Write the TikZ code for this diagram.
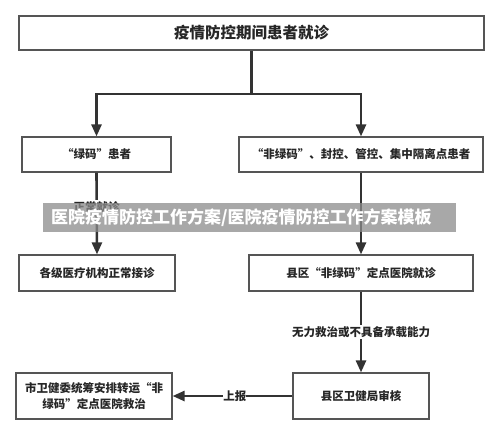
\documentclass[tikz,border=0pt]{standalone}
\usepackage{fontspec}
\newfontfamily\cjk{Noto Sans CJK SC}
\usetikzlibrary{arrows.meta}
\definecolor{boxline}{HTML}{555555}
\definecolor{arrowc}{HTML}{333333}
\begin{document}
\begin{tikzpicture}[x=1pt,y=-1pt,
  box/.style={draw=boxline,line width=1.2pt,fill=white,font=\cjk\bfseries\fontsize{11.5}{16}\selectfont,text=black!85,align=center,inner sep=0pt},
  conn/.style={draw=arrowc,line width=2.6pt},
  arr/.style={conn,-{Triangle[width=10pt,length=12pt]}},
  lbl/.style={fill=white,font=\cjk\bfseries\fontsize{11.5}{13}\selectfont,text=black!85,inner sep=1pt}]
\useasboundingbox (0,0) rectangle (500,436);
\fill[white] (0,0) rectangle (500,436);
\node[box,minimum width=465pt,minimum height=34pt,font=\cjk\bfseries\fontsize{15.5}{18}\selectfont] (top) at (251.5,33) {疫情防控期间患者就诊};
\node[box,minimum width=149pt,minimum height=35pt] (g) at (96.5,154.5) {“绿码”患者};
\node[box,minimum width=244pt,minimum height=35pt] (ng) at (361,154.5) {“非绿码”、封控、管控、集中隔离点患者};
\node[box,minimum width=156pt,minimum height=36pt] (gl) at (97,273) {各级医疗机构正常接诊};
\node[box,minimum width=224pt,minimum height=36pt] (dd) at (361,273) {县区“非绿码”定点医院就诊};
\node[box,minimum width=136pt,minimum height=46pt] (sh) at (361,396) {县区卫健局审核};
\node[box,minimum width=156pt,minimum height=46pt] (sw) at (94,396) {市卫健委统筹安排转运“非\\绿码”定点医院救治};
\coordinate (split) at (251.5,94);
\draw[conn] (top.south) -- (split);
\draw[arr] (split) -| (g.north);
\draw[arr] (split) -| (ng.north);
\draw[arr] (g.south) -- node[lbl,pos=0.42] (l1) {正常就诊} (gl.north);
\draw[arr] (ng.south) -- (dd.north);
\draw[arr] (dd.south) -- node[lbl,pos=0.5] (l2) {无力救治或不具备承载能力} (sh.north);
\draw[arr] (sh.west) -- node[lbl,pos=0.48,inner sep=0pt] (l3) {上报} (sw.east);
\fill[black!45,fill opacity=0.75] (43,203) rectangle (456,232);
\node[text=white,inner sep=0pt,anchor=west,font=\cjk\bfseries\fontsize{17}{19}\selectfont] (wm) at (51,217.5) {医院疫情防控工作方案/医院疫情防控工作方案模板};
\end{tikzpicture}
\end{document}
